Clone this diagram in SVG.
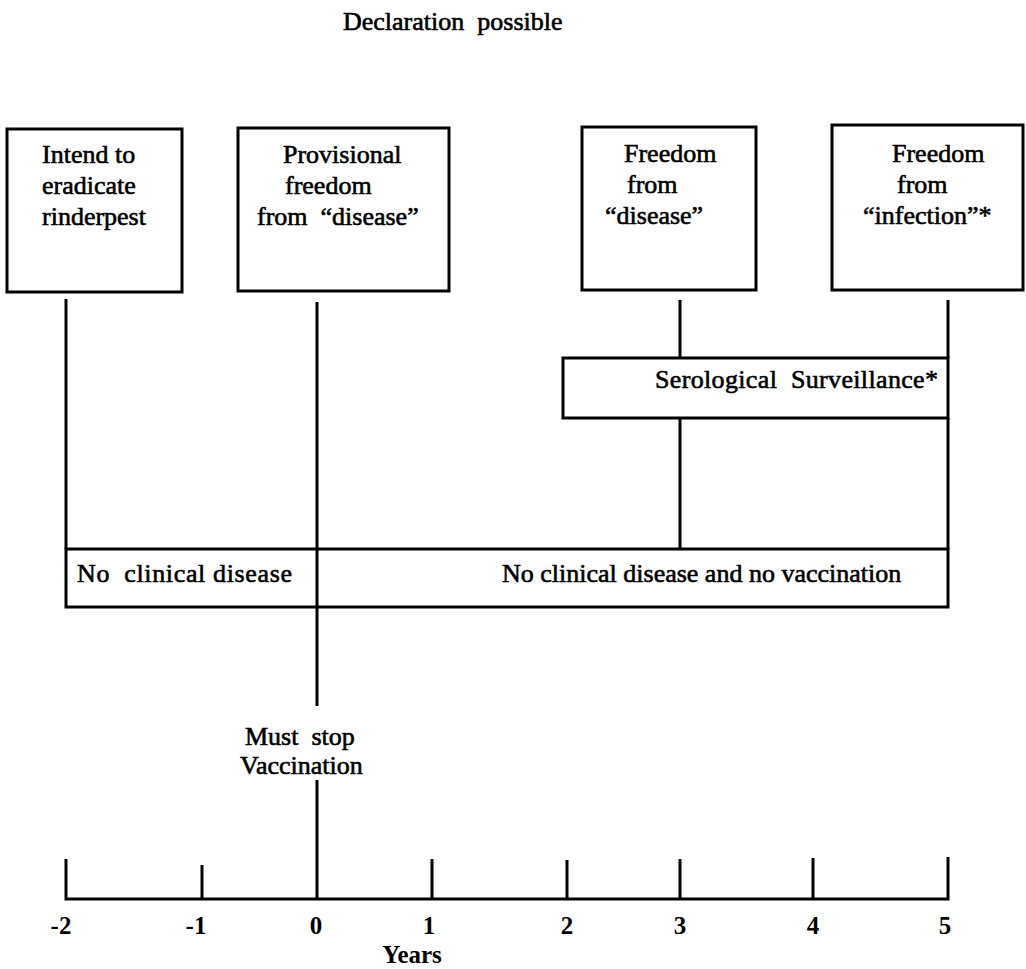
<svg xmlns="http://www.w3.org/2000/svg" width="1026" height="969" viewBox="0 0 1026 969">
<style>
  .box{fill:none;stroke:#000;stroke-width:3}
  .ln{fill:none;stroke:#000;stroke-width:3}
  .t{font-family:"Liberation Serif","Times New Roman",serif;font-size:26px;fill:#000;stroke:#000;stroke-width:0.6}
  .b{font-family:"Liberation Serif","Times New Roman",serif;font-size:25px;font-weight:bold;fill:#000;text-anchor:middle}
</style>
<rect width="1026" height="969" fill="#fff"/>
<g id="title"><text class="t" x="343" y="30" xml:space="preserve">Declaration  possible</text></g>

<g id="node-intend">
  <rect class="box" x="7" y="129" width="175" height="163"/>
  <text class="t" x="42" y="163">Intend to</text>
  <text class="t" x="42" y="194">eradicate</text>
  <text class="t" x="42" y="225">rinderpest</text>
</g>
<g id="node-provisional">
  <rect class="box" x="238" y="128" width="211" height="163"/>
  <text class="t" x="283" y="163">Provisional</text>
  <text class="t" x="285" y="194">freedom</text>
  <text class="t" x="257" y="225" xml:space="preserve">from  “disease”</text>
</g>
<g id="node-freedom-disease">
  <rect class="box" x="582" y="127" width="174" height="163"/>
  <text class="t" x="624" y="162">Freedom</text>
  <text class="t" x="627" y="193">from</text>
  <text class="t" x="605" y="224">“disease”</text>
</g>
<g id="node-freedom-infection">
  <rect class="box" x="832" y="125" width="191" height="165"/>
  <text class="t" x="892" y="162">Freedom</text>
  <text class="t" x="897" y="193">from</text>
  <text class="t" x="863" y="224">“infection”*</text>
</g>
<g id="node-serological">
  <rect class="box" x="563" y="358" width="385" height="60"/>
  <text class="t" x="655" y="388" textLength="283" lengthAdjust="spacing" xml:space="preserve">Serological  Surveillance*</text>
</g>
<g id="node-no-clinical">
  <rect class="box" x="66" y="549" width="882" height="58"/>
  <text class="t" x="77" y="582" textLength="215" lengthAdjust="spacing" xml:space="preserve">No  clinical disease</text>
  <text class="t" x="502" y="582">No clinical disease and no vaccination</text>
</g>
<g id="node-must-stop">
  <text class="t" x="245" y="745" xml:space="preserve">Must  stop</text>
  <text class="t" x="240" y="774">Vaccination</text>
</g>

<g id="connectors">
  <line class="ln" x1="66" y1="299" x2="66" y2="549"/>
  <line class="ln" x1="317" y1="302" x2="317" y2="706"/>
  <line class="ln" x1="317" y1="780" x2="317" y2="899"/>
  <line class="ln" x1="680" y1="300" x2="680" y2="358"/>
  <line class="ln" x1="680" y1="418" x2="680" y2="549"/>
  <line class="ln" x1="948" y1="300" x2="948" y2="358"/>
  <line class="ln" x1="948" y1="418" x2="948" y2="549"/>
</g>

<g id="axis">
  <polyline class="ln" points="66,859 66,899 948,899 948,857"/>
  <line class="ln" x1="202" y1="865" x2="202" y2="899"/>
  <line class="ln" x1="432" y1="859" x2="432" y2="899"/>
  <line class="ln" x1="567" y1="860" x2="567" y2="899"/>
  <line class="ln" x1="680" y1="859" x2="680" y2="899"/>
  <line class="ln" x1="813" y1="858" x2="813" y2="899"/>
  <text class="b" x="61" y="934">-2</text>
  <text class="b" x="196" y="934">-1</text>
  <text class="b" x="316" y="934">0</text>
  <text class="b" x="429" y="934">1</text>
  <text class="b" x="567" y="934">2</text>
  <text class="b" x="680" y="934">3</text>
  <text class="b" x="813" y="934">4</text>
  <text class="b" x="945" y="934">5</text>
  <text class="b" x="412" y="963">Years</text>
</g>
</svg>
